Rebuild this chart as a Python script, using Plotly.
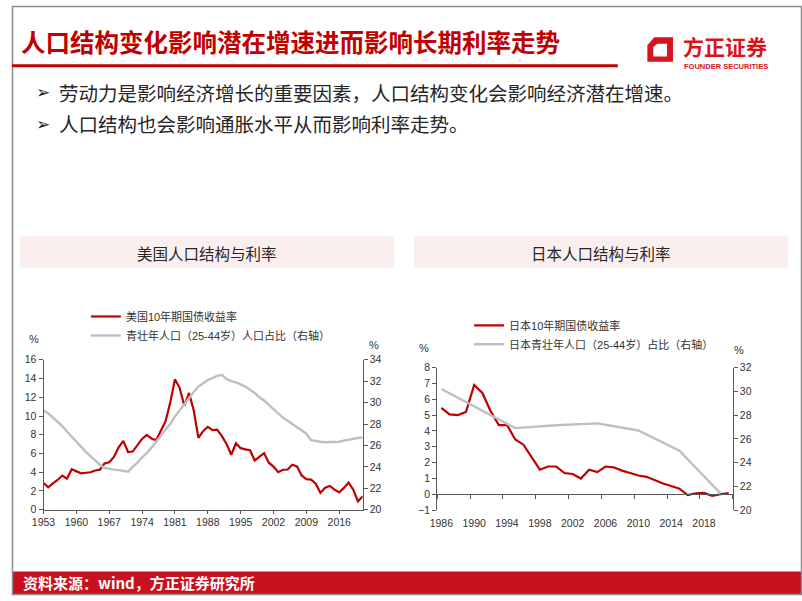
import plotly.graph_objects as go

W, H = 802, 601

# ---------------- data ----------------
us_years = list(range(1953, 2022))
us_yield = [2.85, 2.40, 2.82, 3.18, 3.65, 3.32, 4.33, 4.12, 3.88, 3.95,
            4.00, 4.19, 4.28, 4.93, 5.07, 5.64, 6.67, 7.35, 6.16, 6.21,
            6.85, 7.56, 7.99, 7.61, 7.42, 8.41, 9.43, 11.43, 13.92, 13.01,
            11.10, 12.46, 10.62, 7.67, 8.39, 8.85, 8.49, 8.55, 7.86, 7.01,
            5.87, 7.09, 6.57, 6.44, 6.35, 5.26, 5.65, 6.03, 5.02, 4.61,
            4.01, 4.27, 4.29, 4.80, 4.63, 3.66, 3.26, 3.22, 2.78, 1.80,
            2.35, 2.54, 2.14, 1.84, 2.33, 2.91, 2.14, 0.89, 1.45]
us_pop = [29.3, 29.0, 28.6, 28.2, 27.8, 27.3, 26.8, 26.3, 25.8, 25.4,
          25.0, 24.6, 24.2, 23.9, 23.8, 23.75, 23.7, 23.6, 23.55, 24.0,
          24.4, 24.9, 25.3, 25.8, 26.3, 26.9, 27.5, 28.0, 28.7, 29.3,
          29.9, 30.5, 31.0, 31.5, 31.8, 32.1, 32.3, 32.5, 32.6, 32.2,
          32.0, 31.9, 31.7, 31.5, 31.2, 30.9, 30.5, 30.2, 29.8, 29.4,
          29.0, 28.6, 28.3, 28.0, 27.7, 27.4, 27.1, 26.5, 26.4, 26.35,
          26.3, 26.3, 26.3, 26.35, 26.45, 26.55, 26.65, 26.7, 26.75]
us_xticks = list(range(1953, 2017, 7))

jp_years = list(range(1986, 2022))
jp_yield = [5.46, 5.05, 5.00, 5.20, 6.90, 6.40, 5.25, 4.37, 4.37, 3.46,
            3.13, 2.37, 1.55, 1.75, 1.75, 1.34, 1.28, 0.99, 1.55, 1.40,
            1.75, 1.70, 1.49, 1.34, 1.18, 1.10, 0.87, 0.68, 0.52, 0.35,
            -0.06, 0.06, 0.08, -0.10, 0.00, 0.07]
jp_pop_years = [1986, 1995, 2000, 2005, 2010, 2015, 2020]
jp_pop = [30.2, 26.9, 27.15, 27.3, 26.7, 25.0, 21.4]
jp_xticks = list(range(1986, 2019, 4))

RED = "#C00000"
GRAY = "#BFBFBF"
AX = "#595959"
TXT = "#333333"
NUM_FONT = "Liberation Sans, Noto Sans CJK SC"
CJK = "Noto Sans CJK SC"


def px(x):
    return x / W


def py(y):
    return 1 - y / H


fig = go.Figure()

# US chart
fig.add_trace(go.Scatter(x=us_years, y=us_pop, mode="lines", name="青壮年人口（25-44岁）人口占比（右轴）",
                         line=dict(color=GRAY, width=2.4), xaxis="x", yaxis="y2",
                         legend="legend", legendrank=2))
fig.add_trace(go.Scatter(x=us_years, y=us_yield, mode="lines", name="美国10年期国债收益率",
                         line=dict(color=RED, width=2.2), xaxis="x", yaxis="y",
                         legend="legend", legendrank=1))
# Japan chart
fig.add_trace(go.Scatter(x=jp_pop_years, y=jp_pop, mode="lines", name="日本青壮年人口（25-44岁）占比（右轴）",
                         line=dict(color=GRAY, width=2.4), xaxis="x2", yaxis="y4",
                         legend="legend2", legendrank=2))
fig.add_trace(go.Scatter(x=jp_years, y=jp_yield, mode="lines", name="日本10年期国债收益率",
                         line=dict(color=RED, width=2.2), xaxis="x2", yaxis="y3",
                         legend="legend2", legendrank=1))

us_xd = [px(32), px(356)]
us_yd = [py(514), py(361)]
jp_xd = [px(431.7), px(731.7)]
jp_yd = [py(514.3), py(369)]
jp_zero = jp_yd[0] + (1 / 9) * (jp_yd[1] - jp_yd[0])

tickfont = dict(family=NUM_FONT, size=10.5, color=TXT)

fig.update_layout(
    width=W, height=H, margin=dict(l=0, r=0, t=0, b=0),
    paper_bgcolor="white", plot_bgcolor="rgba(0,0,0,0)",
    showlegend=True,
    xaxis=dict(domain=us_xd, range=[1953, 2021], tickmode="array", tickvals=us_xticks,
               showline=True, linecolor=AX, linewidth=1, ticks="outside", ticklen=3,
               tickcolor=AX, showgrid=False, zeroline=False, tickfont=tickfont, anchor="y"),
    yaxis=dict(domain=us_yd, range=[0, 16], dtick=2, showline=True, linecolor=AX,
               ticks="outside", ticklen=4, tickcolor=AX, showgrid=False, zeroline=False,
               tickfont=tickfont, anchor="x"),
    yaxis2=dict(range=[20, 34], dtick=2, overlaying="y", side="right", anchor="x",
                showline=True, linecolor=AX, ticks="outside", ticklen=4, tickcolor=AX,
                showgrid=False, zeroline=False, tickfont=tickfont),
    xaxis2=dict(domain=jp_xd, range=[1985.5, 2021.5], tickmode="array", tickvals=jp_xticks,
                anchor="free", position=jp_zero, showline=True, linecolor=AX, linewidth=1,
                ticks="", ticklabelstandoff=19, showgrid=False, zeroline=False, tickfont=tickfont,
                minor=dict(tickvals=[1985.5 + 4 * i for i in range(10)], ticks="outside",
                           ticklen=4, tickcolor=AX, showgrid=False)),
    yaxis3=dict(domain=jp_yd, range=[-1, 8], dtick=1, showline=True, linecolor=AX,
                ticks="outside", ticklen=4, tickcolor=AX, showgrid=False, zeroline=False,
                tickfont=tickfont, anchor="x2"),
    yaxis4=dict(range=[20, 32], dtick=2, overlaying="y3", side="right", anchor="x2",
                showline=True, linecolor=AX, ticks="outside", ticklen=4, tickcolor=AX,
                showgrid=False, zeroline=False, tickfont=tickfont),
    legend=dict(x=px(75), y=py(302), xanchor="left", yanchor="top", bgcolor="rgba(0,0,0,0)",
                font=dict(family=NUM_FONT, size=11, color=TXT), itemwidth=30,
                tracegroupgap=0, traceorder="normal"),
    legend2=dict(x=px(464), y=py(311), xanchor="left", yanchor="top", bgcolor="rgba(0,0,0,0)",
                 font=dict(family=NUM_FONT, size=11, color=TXT), itemwidth=30,
                 tracegroupgap=0, traceorder="normal"),
)

shapes = []
# outer slide frame
shapes.append(dict(type="rect", xref="paper", yref="paper", x0=px(0.5), x1=px(801.5),
                   y0=py(600.5), y1=py(0.5), line=dict(color="#8C8C8C", width=1.5), layer="above"))
# title underline
shapes.append(dict(type="line", xref="paper", yref="paper", x0=px(0), x1=px(615),
                   y0=py(61), y1=py(61), line=dict(color=RED, width=3)))
# chart title panels
for x0, x1 in [(8, 388), (408, 788)]:
    shapes.append(dict(type="rect", xref="paper", yref="paper", x0=px(x0), x1=px(x1),
                       y0=py(267), y1=py(235), fillcolor="#FBEEEE", line=dict(width=0), layer="below"))
# footer band
shapes.append(dict(type="rect", xref="paper", yref="paper", x0=0, x1=1, y0=0, y1=py(577),
                   fillcolor="#C8101E", line=dict(width=0), layer="below"))
# logo icon (frame with chamfered corner)
def pth(points):
    s = "M " + " L ".join(f"{px(a):.5f},{py(b):.5f}" for a, b in points) + " Z"
    return s

outer = [(652, 32), (671, 32), (671, 57), (645, 57), (645, 40)]
inner = [(655, 38.5), (651, 42), (651, 51.5), (665, 51.5), (665, 38.5)]
shapes.append(dict(type="path", xref="paper", yref="paper", path=pth(outer) + " " + pth(inner),
                   fillcolor="#D7141A", line=dict(width=0)))
fig.update_layout(shapes=shapes)

ann = []
def text(x, y, s, size, color=TXT, family=CJK, xanchor="left", bold=False):
    if bold:
        s = "<b>" + s + "</b>"
    ann.append(dict(x=px(x), y=py(y), xref="paper", yref="paper", text=s, showarrow=False,
                    xanchor=xanchor, yanchor="middle",
                    font=dict(family=family, size=size, color=color)))

text(7, 36, "人口结构变化影响潜在增速进而影响长期利率走势", 24.5, RED, CJK, bold=True)
text(679, 40.5, "方正证券", 21, "#D7141A", CJK, bold=True)
text(680, 62, "FOUNDER SECURITIES", 7.5, "#D7141A", "Liberation Sans", bold=True)
text(22, 88, "➢", 17, "#222222", "DejaVu Sans")
text(22, 120, "➢", 17, "#222222", "DejaVu Sans")
text(46, 88, "劳动力是影响经济增长的重要因素，人口结构变化会影响经济潜在增速。", 19.5, "#262626", CJK)
text(46, 120, "人口结构也会影响通胀水平从而影响利率走势。", 19.5, "#262626", CJK)
text(198, 252, "美国人口结构与利率", 15.5, "#262626", CJK, xanchor="center")
text(598, 252, "日本人口结构与利率", 15.5, "#262626", CJK, xanchor="center")
text(22, 340, "%", 11, TXT, NUM_FONT, xanchor="center")
text(367, 346, "%", 11, TXT, NUM_FONT, xanchor="center")
text(418, 349, "%", 11, TXT, NUM_FONT, xanchor="center")
text(738, 351, "%", 11, TXT, NUM_FONT, xanchor="center")
text(9, 588, "资料来源：wind，方正证券研究所", 15, "white", CJK, bold=True)
fig.update_layout(annotations=ann)

fig.write_html("out.html", config={"displayModeBar": False},
               post_script="document.body.style.margin='0';document.body.style.overflow='hidden';")
